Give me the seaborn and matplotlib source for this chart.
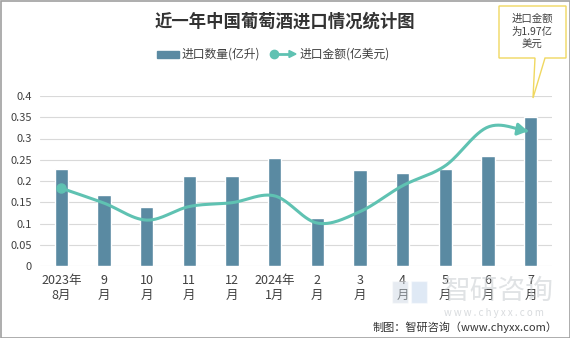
import numpy as np
import pandas as pd
import seaborn as sns
import matplotlib
matplotlib.use("Agg")
import matplotlib.pyplot as plt
from matplotlib.patches import Rectangle, Polygon
from matplotlib.lines import Line2D

categories = ["2023年\n8月", "9\n月", "10\n月", "11\n月", "12\n月", "2024年\n1月",
              "2\n月", "3\n月", "4\n月", "5\n月", "6\n月", "7\n月"]
volume = [0.228, 0.168, 0.139, 0.212, 0.212, 0.253, 0.112, 0.226, 0.219, 0.228, 0.259, 0.351]
amount = [0.183, 0.148, 0.108, 0.140, 0.149, 0.165, 0.101, 0.128, 0.189, 0.236, 0.327, 0.316]
yticks = [0, 0.05, 0.1, 0.15, 0.2, 0.25, 0.3, 0.35, 0.4]
ytick_labels = ["0", "0.05", "0.1", "0.15", "0.2", "0.25", "0.3", "0.35", "0.4"]

sns.set_theme(style="white")
plt.rcParams['font.family'] = ['Noto Sans CJK SC', 'DejaVu Sans']

BAR = "#5a8aa2"
LINE = "#5fc2b2"

fig = plt.figure(figsize=(5.7, 3.38), dpi=100)
ax = fig.add_axes([40/570, 1-266/338, 512/570, 170/338])

df = pd.DataFrame({"cat": categories, "v": volume})
sns.barplot(data=df, x="cat", y="v", color=BAR, width=0.32, ax=ax, saturation=1, zorder=3)

# smooth (Catmull-Rom) curve through the amount points
xs = np.arange(len(amount), dtype=float)
ys = np.array(amount)
px = np.concatenate([[2*xs[0]-xs[1]], xs, [2*xs[-1]-xs[-2]]])
py = np.concatenate([[2*ys[0]-ys[1]], ys, [2*ys[-1]-ys[-2]]])
cx, cy = [], []
t = np.linspace(0, 1, 30)
for i in range(1, len(px)-2):
    p0, p1, p2, p3 = (px[i-1], py[i-1]), (px[i], py[i]), (px[i+1], py[i+1]), (px[i+2], py[i+2])
    for k in range(2):
        a = [p0[k], p1[k], p2[k], p3[k]]
        seg = 0.5*((2*a[1]) + (-a[0]+a[2])*t + (2*a[0]-5*a[1]+4*a[2]-a[3])*t**2 + (-a[0]+3*a[1]-3*a[2]+a[3])*t**3)
        (cx if k == 0 else cy).extend(seg if i == len(px)-3 else seg[:-1])
cx = np.array(cx); cy = np.array(cy)
ax.plot(cx[:-3], cy[:-3], color=LINE, lw=2.2, zorder=4, solid_capstyle="round")
ax.annotate("", xy=(cx[-1], cy[-1]), xytext=(cx[-6], cy[-6]),
            arrowprops=dict(arrowstyle="-|>,head_length=0.5,head_width=0.3", color=LINE, lw=2.2), zorder=5)
ax.plot([xs[0]], [ys[0]], "o", color=LINE, ms=6.5, zorder=5)

ax.set_ylim(0, 0.4)
ax.set_xlim(-0.5, len(categories)-0.5)
ax.set_yticks(yticks)
ax.set_yticklabels(ytick_labels, fontsize=8, color="#404040")
ax.tick_params(axis="x", labelsize=9, colors="#404040", pad=6, length=0)
ax.tick_params(axis="y", length=0, pad=6)
ax.set_xlabel(""); ax.set_ylabel("")
for s in ax.spines.values():
    s.set_visible(False)
ax.yaxis.grid(True, color="#d9d9d9", lw=0.8, zorder=0)
ax.set_axisbelow(True)

# title
fig.text(285/570, 1-22/338, "近一年中国葡萄酒进口情况统计图", ha="center", va="center",
         fontsize=12.5, fontweight="bold", color="#333333")
# legend
fig.patches.append(Rectangle((157/570, 1-58/338), 22/570, 7/338, transform=fig.transFigure,
                             color=BAR, figure=fig))
fig.text(182/570, 1-54/338, "进口数量(亿升)", ha="left", va="center", fontsize=8.5, color="#404040")
fig.lines.append(Line2D([275/570, 290/570], [1-54/338, 1-54/338], transform=fig.transFigure,
                        color=LINE, lw=2, figure=fig))
fig.lines.append(Line2D([274/570], [1-54/338], transform=fig.transFigure, marker="o", ms=6,
                        color=LINE, figure=fig))
fig.patches.append(Polygon([[289/570, 1-50.5/338], [296/570, 1-54/338], [289/570, 1-57.5/338]],
                           closed=True, transform=fig.transFigure, color=LINE, figure=fig))
fig.text(300/570, 1-54/338, "进口金额(亿美元)", ha="left", va="center", fontsize=8.5, color="#404040")

# callout
box = Polygon([[499/570, 1-6/338], [566/570, 1-6/338], [566/570, 1-58/338], [545/570, 1-58/338],
               [533/570, 1-98/338], [535/570, 1-58/338], [499/570, 1-58/338]], closed=True,
              transform=fig.transFigure, facecolor="white", edgecolor="#f0d860", lw=1, figure=fig)
fig.patches.append(box)
fig.text(532/570, 1-32/338, "进口金额\n为1.97亿\n美元", ha="center", va="center", fontsize=7.5,
         color="#404040", linespacing=1.35)

# watermark (drawn faintly, behind)
fig.text(498/570, 1-291/338, "智研咨询", ha="center", va="center", fontsize=20, color="#c8ccd0",
         alpha=0.55, zorder=0)
fig.text(494/570, 1-313/338, "w w w . c h y x x . c o m", ha="center", va="center", fontsize=7,
         color="#c8ccd0", alpha=0.7, zorder=0)
fig.patches.append(Rectangle((392/570, 1-303/338), 16/570, 22/338, transform=fig.transFigure,
                             facecolor="#c8d4e0", alpha=0.45, figure=fig, zorder=0))
fig.patches.append(Rectangle((411/570, 1-303/338), 16/570, 22/338, transform=fig.transFigure,
                             facecolor="#b8d0ea", alpha=0.45, figure=fig, zorder=0))
# footer
fig.text(558/570, 1-327/338, "制图：智研咨询（www.chyxx.com）", ha="right", va="center",
         fontsize=8, color="#333333")

# border
fig.patches.append(Rectangle((0.5/570, 0.5/338), 569/570, 337/338, transform=fig.transFigure,
                             fill=False, edgecolor="#a0a0a0", lw=1.2, figure=fig))

fig.savefig("out.png", dpi=100)
